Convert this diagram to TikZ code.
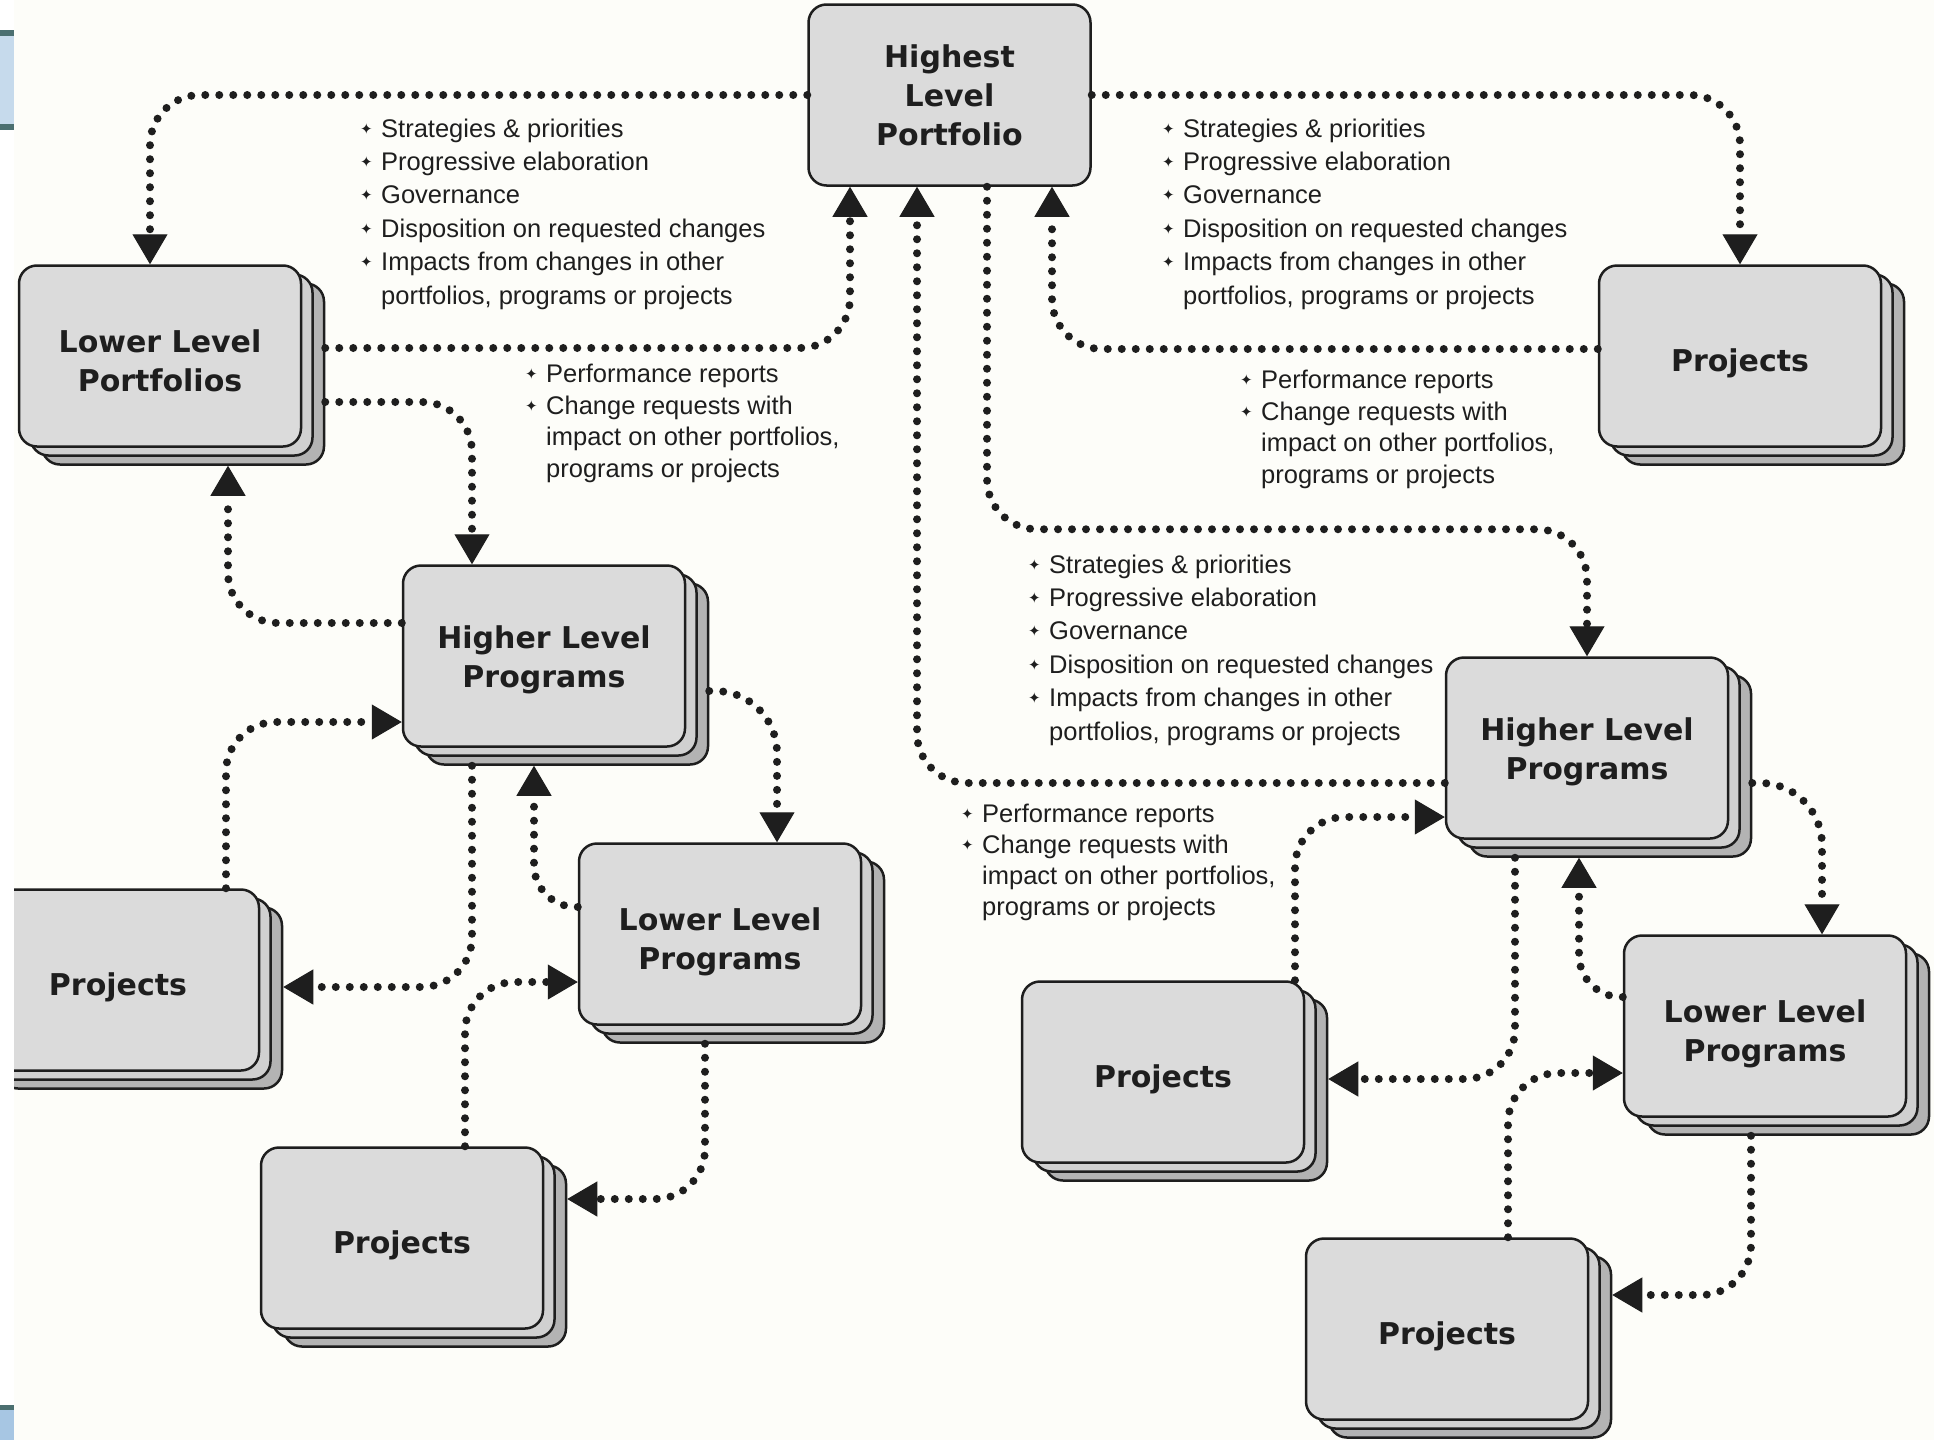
\documentclass[tikz,border=0pt]{standalone}
\usepackage{fontspec}
\setmainfont{Liberation Sans}
\newfontfamily\boxfont{DejaVu Sans}
\newfontfamily\symfont{DejaVu Sans}
\usetikzlibrary{arrows.meta,calc,shadows}
\definecolor{bg}{HTML}{FDFDF9}
\definecolor{boxfront}{HTML}{DBDBDB}
\definecolor{boxmid}{HTML}{D0D0D0}
\definecolor{boxback}{HTML}{B3B3B3}
\definecolor{ink}{HTML}{1E1E1E}
\definecolor{tabblue}{HTML}{C6DAEC}
\definecolor{tabblueb}{HTML}{A7C6E3}
\definecolor{tabedge}{HTML}{4B6F70}
\newcommand\mybul{\makebox[21pt][l]{\raisebox{3pt}{\symfont\fontsize{15}{15}\selectfont ✦}}}
\newcommand\myind{\hspace*{21pt}}
\newcommand\lbl[2][8pt]{\raisebox{-#1}[\height][\depth]{\begin{tabular}{@{}c@{}}#2\end{tabular}}}
\tikzset{
  box/.style={draw=ink, line width=2.5pt, fill=boxfront, rounded corners=18pt,
    minimum width=282pt, minimum height=181pt, align=center, inner sep=0pt,
    font=\boxfont\bfseries\fontsize{30}{39}\selectfont, text=ink},
  stacked/.style={box,
    general shadow={shadow xshift=23pt, shadow yshift=-18pt, fill=boxback, draw=ink, line width=2.5pt},
    general shadow={shadow xshift=11.5pt, shadow yshift=-9pt, fill=boxmid, draw=ink, line width=2.5pt}},
  flow/.style={draw=ink, line width=8pt, line cap=round, dash pattern=on 0pt off 14pt,
    rounded corners=50pt, -{Triangle[width=35pt,length=30pt,line width=1pt]}},
  info/.style={anchor=north west, inner sep=0pt, align=left, text=ink}
}
\begin{document}
\begin{tikzpicture}[x=1pt,y=-1pt]
\useasboundingbox (0,0) rectangle (1934,1440);
\fill[bg] (0,0) rectangle (1934,1440);

% boxes
\node[box] (HLPort) at (949.5,95) {Highest\\Level\\Portfolio};
\node[stacked] (LLPort) at (160,356) {\lbl{Lower Level\\Portfolios}};
\node[stacked] (ProjTR) at (1740,356) {\lbl{Projects}};
\node[stacked] (HLProgL) at (544,656) {\lbl[4pt]{Higher Level\\Programs}};
\node[stacked] (ProjL) at (118,980) {\lbl{Projects}};
\node[stacked] (LLProgL) at (720,934) {\lbl{Lower Level\\Programs}};
\node[stacked] (ProjBL) at (402,1238) {\lbl{Projects}};
\node[stacked] (HLProgR) at (1587,748) {\lbl[4pt]{Higher Level\\Programs}};
\node[stacked] (ProjMR) at (1163,1072) {\lbl{Projects}};
\node[stacked] (LLProgR) at (1765,1026) {\lbl{Lower Level\\Programs}};
\node[stacked] (ProjBR) at (1447,1329) {\lbl{Projects}};

% top level connectors
\draw[flow] (HLPort.west) -| ($(LLPort.north)+(-10,0)$);
\draw[flow] ($(LLPort.east)+(23,-8)$) -| ($(HLPort.south)+(-99.5,0)$);
\draw[flow] (HLPort.east) -| (ProjTR.north);
\draw[flow] ($(ProjTR.west)+(0,-7)$) -| ($(HLPort.south)+(102.5,0)$);
\draw[flow] ($(HLPort.south)+(37.5,0)$) |- ($(HLProgR.north)+(0,-127)$) -- (HLProgR.north);
\draw[flow] ($(HLProgR.west)+(0,35)$) -| ($(HLPort.south)+(-32.5,0)$);

% left cluster
\draw[flow] ($(LLPort.east)+(23,46)$) -| ($(HLProgL.north)+(-72,0)$);
\draw[flow] ($(HLProgL.west)+(0,-33)$) -| ($(LLPort.south)+(68,18)$);
\draw[flow] ($(ProjL.north)+(108,0)$) |- ($(HLProgL.west)+(0,66)$);
\draw[flow] ($(HLProgL.south)+(-72,18)$) |- ($(ProjL.east)+(23,7)$);
\draw[flow,rounded corners=62pt] ($(HLProgL.east)+(23,35)$) -| ($(LLProgL.north)+(57,0)$);
\draw[flow,rounded corners=42pt] ($(LLProgL.west)+(0,-27)$) -| ($(HLProgL.south)+(-10,18)$);
\draw[flow] ($(ProjBL.north)+(63,0)$) |- ($(LLProgL.west)+(0,48)$);
\draw[flow] ($(LLProgL.south)+(-15,18)$) |- ($(ProjBL.east)+(23,-39)$);

% right cluster
\draw[flow,rounded corners=62pt] ($(HLProgR.east)+(23,35)$) -| ($(LLProgR.north)+(57,0)$);
\draw[flow,rounded corners=42pt] ($(LLProgR.west)+(0,-29)$) -| ($(HLProgR.south)+(-8,18)$);
\draw[flow] ($(ProjMR.north)+(132,0)$) |- ($(HLProgR.west)+(0,69)$);
\draw[flow] ($(HLProgR.south)+(-72,18)$) |- ($(ProjMR.east)+(23,7)$);
\draw[flow] ($(ProjBR.north)+(61,0)$) |- ($(LLProgR.west)+(0,47)$);
\draw[flow] ($(LLProgR.south)+(-14,18)$) |- ($(ProjBR.east)+(23,-34)$);

% texts
\node[info, font=\fontsize{25.5}{33.4}\selectfont] (T1) at (360,113.6) {\strut\mybul Strategies \& priorities\\
\mybul Progressive elaboration\\ \mybul Governance\\ \mybul Disposition on requested changes\\
\mybul Impacts from changes in other\\ \myind portfolios, programs or projects};
\node[info, font=\fontsize{25.5}{33.4}\selectfont] (T2) at (1162,113.6) {\strut\mybul Strategies \& priorities\\
\mybul Progressive elaboration\\ \mybul Governance\\ \mybul Disposition on requested changes\\
\mybul Impacts from changes in other\\ \myind portfolios, programs or projects};
\node[info, font=\fontsize{25.5}{33.4}\selectfont] (T5) at (1028,549.6) {\strut\mybul Strategies \& priorities\\
\mybul Progressive elaboration\\ \mybul Governance\\ \mybul Disposition on requested changes\\
\mybul Impacts from changes in other\\ \myind portfolios, programs or projects};
\node[info, font=\fontsize{25.5}{31.7}\selectfont] (T3) at (525,360) {\strut\mybul Performance reports\\
\mybul Change requests with\\ \myind impact on other portfolios,\\ \myind programs or projects};
\node[info, font=\fontsize{25.5}{31.7}\selectfont] (T4) at (1240,366) {\strut\mybul Performance reports\\
\mybul Change requests with\\ \myind impact on other portfolios,\\ \myind programs or projects};
\node[info, font=\fontsize{25.5}{31}\selectfont] (T6) at (961,801) {\strut\mybul Performance reports\\
\mybul Change requests with\\ \myind impact on other portfolios,\\ \myind programs or projects};

% slide edge artifacts
\fill[white] (0,0) rectangle (14,1440);
\fill[tabblue] (0,30) rectangle (14,130);
\fill[tabedge] (0,30) rectangle (14,36);
\fill[tabedge] (0,124) rectangle (14,130);
\fill[tabedge] (0,1405) rectangle (14,1410);
\fill[tabblueb] (0,1410) rectangle (14,1440);
\end{tikzpicture}
\end{document}
